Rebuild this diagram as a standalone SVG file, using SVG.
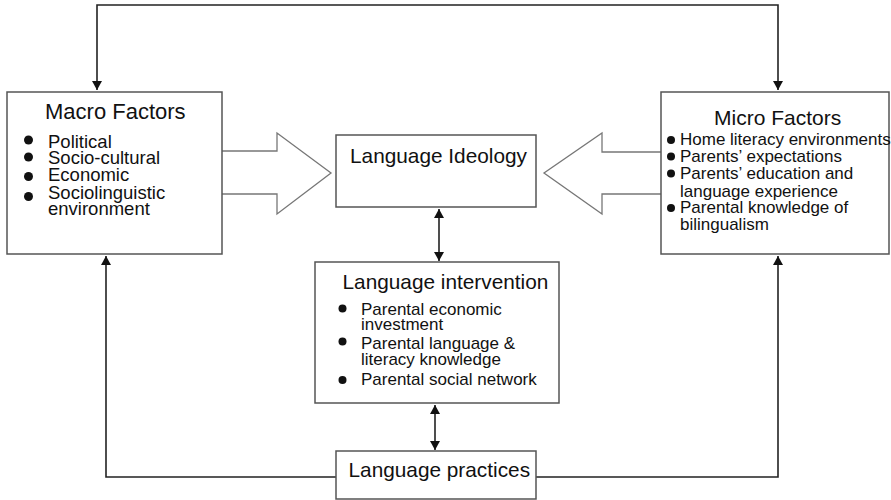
<svg xmlns="http://www.w3.org/2000/svg" width="891" height="500" viewBox="0 0 891 500">
  <defs>
    <marker id="tri" viewBox="0 0 10 11" refX="10" refY="5.5" markerWidth="11" markerHeight="10" markerUnits="userSpaceOnUse" orient="auto-start-reverse">
      <path d="M0,0 L10,5.5 L0,11 Z" fill="#111"/>
    </marker>
    <style>
      .box { fill: #fff; stroke: #555; stroke-width: 1.5; }
      .big { fill: #fff; stroke: #777; stroke-width: 1.3; }
      .link { fill: none; stroke: #222; stroke-width: 1.6; }
      text { font-family: "Liberation Sans", Arial, sans-serif; fill: #111; }
      .title { font-size: 20.8px; }
      .item { font-size: 17px; }
      .dot { fill: #111; }
    </style>
  </defs>

  <!-- Block arrows feeding Language Ideology -->
  <g id="arrow-macro">
    <path class="big" d="M222,151 H277 V133 L331,173 L277,214 V194 H222"/>
  </g>
  <g id="arrow-micro">
    <path class="big" d="M661,152 H602 V133 L544,173 L602,214 V194 H661"/>
  </g>

  <!-- Connectors -->
  <g id="connectors">
    <path class="link" d="M97,90 V5 H778 V90" marker-start="url(#tri)" marker-end="url(#tri)"/>
    <path class="link" d="M336,477 H106 V256" marker-end="url(#tri)"/>
    <path class="link" d="M536,477 H778 V256" marker-end="url(#tri)"/>
    <path class="link" d="M439,209 V261" marker-start="url(#tri)" marker-end="url(#tri)"/>
    <path class="link" d="M435,405 V450" marker-start="url(#tri)" marker-end="url(#tri)"/>
  </g>

  <g id="macro-factors">
    <rect class="box" x="7" y="92" width="215" height="162"/>
    <text x="45" y="119" style="font-size:22px">Macro Factors</text>
    <circle class="dot" cx="28.5" cy="140" r="4.5"/>
    <circle class="dot" cx="28.5" cy="157" r="4.5"/>
    <circle class="dot" cx="28.5" cy="176.5" r="4.5"/>
    <circle class="dot" cx="28.5" cy="196.5" r="4.5"/>
    <text x="48" y="148" style="font-size:18.5px">Political</text>
    <text x="48" y="164" style="font-size:18.5px">Socio-cultural</text>
    <text x="48" y="181" style="font-size:18.5px">Economic</text>
    <text x="48" y="198.5" style="font-size:18.5px">Sociolinguistic</text>
    <text x="48" y="215" style="font-size:18.5px">environment</text>
  </g>

  <g id="language-ideology">
    <rect class="box" x="336" y="135" width="200" height="72"/>
    <text class="title" x="350" y="162.5">Language Ideology</text>
  </g>

  <g id="micro-factors">
    <rect class="box" x="661" y="92" width="228" height="162"/>
    <text x="714" y="125" style="font-size:21px">Micro Factors</text>
    <circle class="dot" cx="671" cy="140" r="4"/>
    <circle class="dot" cx="671" cy="156.5" r="4"/>
    <circle class="dot" cx="671" cy="173.5" r="4"/>
    <circle class="dot" cx="671" cy="208" r="4"/>
    <text class="item" x="680" y="145">Home literacy environments</text>
    <text class="item" x="680" y="161.5">Parents’ expectations</text>
    <text class="item" x="680" y="179">Parents’ education and</text>
    <text class="item" x="680" y="196.5">language experience</text>
    <text class="item" x="680" y="213">Parental knowledge of</text>
    <text class="item" x="680" y="229.5">bilingualism</text>
  </g>

  <g id="language-intervention">
    <rect class="box" x="315" y="262" width="244" height="141"/>
    <text class="title" x="342.5" y="288.5">Language intervention</text>
    <circle class="dot" cx="342.5" cy="308.5" r="4"/>
    <circle class="dot" cx="342.5" cy="341.5" r="4"/>
    <circle class="dot" cx="342.5" cy="380" r="4"/>
    <text class="item" x="361" y="315">Parental economic</text>
    <text class="item" x="361" y="329.5">investment</text>
    <text class="item" x="361" y="348.5">Parental language &amp;</text>
    <text class="item" x="361" y="365">literacy knowledge</text>
    <text class="item" x="361" y="385">Parental social network</text>
  </g>

  <g id="language-practices">
    <rect class="box" x="336" y="451" width="200" height="48"/>
    <text class="title" x="348.5" y="476.5">Language practices</text>
  </g>
</svg>
